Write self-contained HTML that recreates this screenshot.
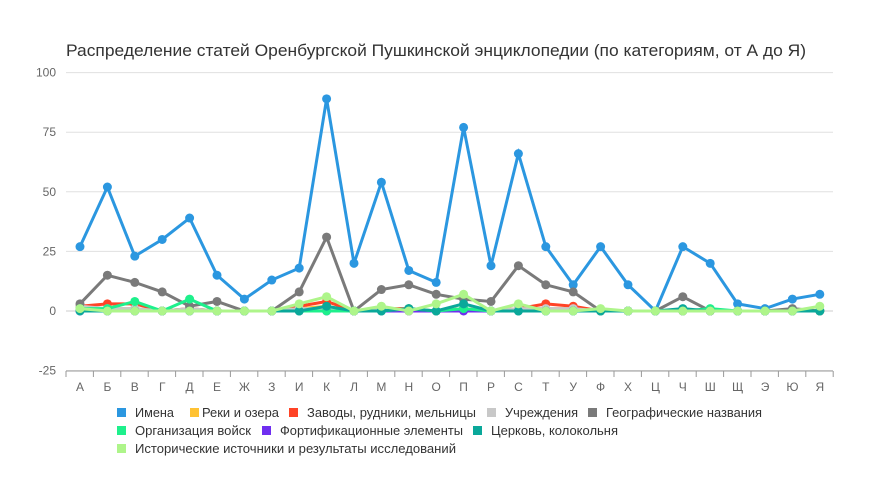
<!DOCTYPE html><html><head><meta charset="utf-8"><style>body{margin:0;background:#fff}svg{font-family:"Liberation Sans","DejaVu Sans",sans-serif}</style></head><body>
<svg width="880" height="498" id="s"></svg>
<script>
const s=document.getElementById('s');let h='';
h+='<text x="66" y="56" font-size="17" fill="#333" textLength="740" lengthAdjust="spacingAndGlyphs">Распределение статей Оренбургской Пушкинской энциклопедии (по категориям, от А до Я)</text>';
const Y=v=>311-2.384*v, X=i=>80+i*27.4;
[100,75,50,25,0,-25].forEach(v=>{h+=`<line x1="66" x2="833" y1="${Y(v)}" y2="${Y(v)}" stroke="${v==0?'#ccc':'#e0e0e0'}"/><text x="56" y="${Y(v)+4}" font-size="12" fill="#666" text-anchor="end">${v}</text>`});
h+='<line x1="66" x2="833" y1="371" y2="371" stroke="#999"/>';
const L='А Б В Г Д Е Ж З И К Л М Н О П Р С Т У Ф Х Ц Ч Ш Щ Э Ю Я'.split(' ');
for(let i=0;i<=28;i++)h+=`<line x1="${66+i*27.4}" x2="${66+i*27.4}" y1="371" y2="377" stroke="#999"/>`;
L.forEach((l,i)=>h+=`<text x="${X(i)}" y="391" font-size="12" fill="#666" text-anchor="middle">${l}</text>`);
function S(c,d){let p=d.map((v,i)=>X(i)+','+Y(v)).join(' ');h+=`<polyline points="${p}" fill="none" stroke="${c}" stroke-width="3"/>`;d.forEach((v,i)=>h+=`<circle cx="${X(i)}" cy="${Y(v)}" r="4.5" fill="${c}"/>`)}
S('#ffc233',[1,1,1,0,1,0,0,0,1,2,0,1,0,0,1,0,1,1,1,0,0,0,0,0,0,0,0,0]);
S('#ff4326',[2,3,3,0,1,0,0,0,2,4,0,1,1,0,1,0,1,3,2,0,0,0,0,0,0,0,0,0]);
S('#c8c8c8',[2,1,1,0,1,0,0,0,1,1,0,1,0,0,1,0,1,1,1,0,0,0,0,0,0,0,0,0]);
S('#6f2ef0',[0,0,0,0,0,0,0,0,0,0,0,0,0,0,0,0,0,0,0,0,0,0,0,0,0,0,0,0]);
S('#2b97e0',[27,52,23,30,39,15,5,13,18,89,20,54,17,12,77,19,66,27,11,27,11,0,27,20,3,1,5,7]);
S('#7a7a7a',[3,15,12,8,2,4,0,0,8,31,0,9,11,7,5,4,19,11,8,0,0,0,6,0,0,0,1,0]);
S('#1ef08c',[1,1,4,0,5,0,0,0,0,0,0,0,1,0,1,0,0,0,0,0,0,0,0,1,0,0,0,0]);
S('#0aa89a',[0,0,0,0,0,0,0,0,0,2,0,0,1,0,3,0,0,0,0,0,0,0,1,0,0,0,0,0]);
S('#aef58a',[1,0,0,0,0,0,0,0,3,6,0,2,0,3,7,0,3,0,0,1,0,0,0,0,0,0,0,2]);
const lg=[[117,413,135,'#2b97e0','Имена',39],[190,413,202,'#ffc233','Реки и озера',77],[289,413,307,'#ff4326','Заводы, рудники, мельницы',169],[487,413,505,'#c8c8c8','Учреждения',73],[588,413,606,'#7a7a7a','Географические названия',156],[117,431,135,'#1ef08c','Организация войск',116],[262,431,280,'#6f2ef0','Фортификационные элементы',183],[473,431,491,'#0aa89a','Церковь, колокольня',127],[117,449,135,'#aef58a','Исторические источники и результаты исследований',321]];
lg.forEach(([x,y,tx,c,t,w])=>h+=`<rect x="${x}" y="${y-5}" width="9" height="9" fill="${c}"/><text x="${tx}" y="${y+4}" font-size="13" fill="#333" textLength="${w}" lengthAdjust="spacingAndGlyphs">${t}</text>`);
s.innerHTML=h;
</script></body></html>
